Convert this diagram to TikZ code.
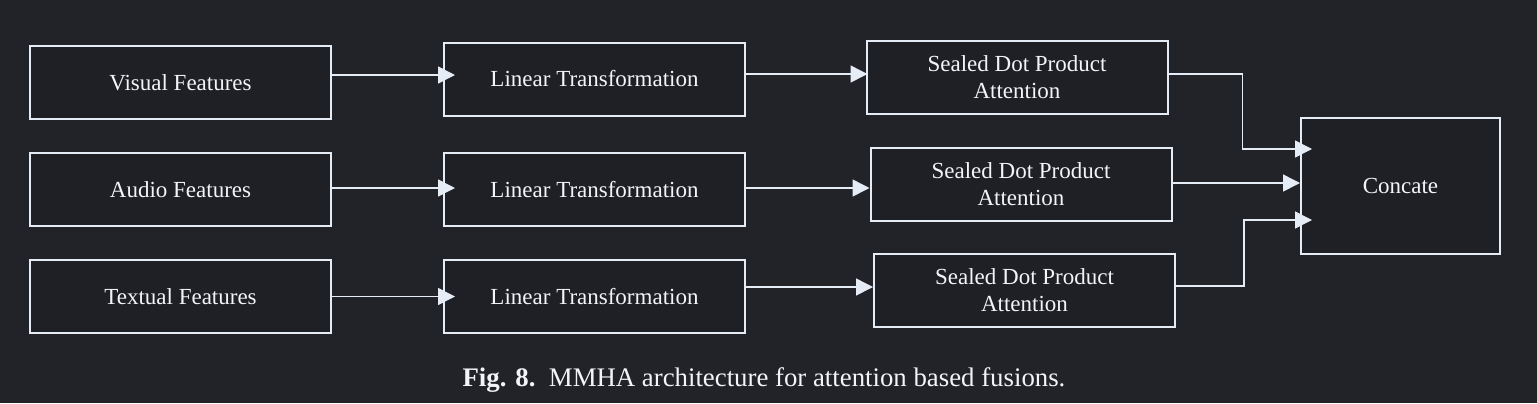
\documentclass[tikz,border=0pt]{standalone}
\usepackage{fontspec}
\setmainfont{Liberation Serif}
\usetikzlibrary{arrows.meta}
\definecolor{bgcol}{HTML}{212328}
\definecolor{boxcol}{HTML}{1E2025}
\definecolor{linecol}{HTML}{E6ECF6}
\definecolor{txtcol}{HTML}{F2F4F8}
\tikzset{
  blk/.style={draw=linecol, line width=1pt, fill=boxcol, text=txtcol,
    minimum width=150.5pt, minimum height=36.5pt, align=center,
    font=\fontsize{11.5}{13.5}\selectfont, inner sep=0pt},
  arr/.style={draw=linecol, line width=0.75pt, -{Triangle[length=8.5pt,width=8.5pt]}}
}
\begin{document}
\begin{tikzpicture}[x=0.5pt,y=-0.5pt]

\fill [bgcol] (0,0) rectangle (1537,403) ;
\useasboundingbox (0,0) rectangle (1537,403) ;

%input features
\node [blk] (vis) at (180.5,82.5) {Visual Features} ;
\node [blk] (aud) at (180.5,189.5) {Audio Features} ;
\node [blk] (txt) at (180.5,296.5) {Textual Features} ;

%linear transformations
\node [blk] (lin1) at (594.5,79) {Linear Transformation} ;
\node [blk] (lin2) at (594.5,189.5) {Linear Transformation} ;
\node [blk] (lin3) at (594.5,296.5) {Linear Transformation} ;

%attention heads
\node [blk] (sdpa1) at (1017,77.5) {Sealed Dot Product\\Attention} ;
\node [blk] (sdpa2) at (1021,184.5) {Sealed Dot Product\\Attention} ;
\node [blk] (sdpa3) at (1024.5,290) {Sealed Dot Product\\Attention} ;

%output
\node [blk,minimum width=99.5pt,minimum height=68pt] (concat) at (1400.5,186) {Concate} ;

%features to linear
\draw [arr,shorten >=-6pt] ([yshift=3.75pt]vis.east) -- ([yshift=2pt]lin1.west) ;
\draw [arr,shorten >=-6pt] ([yshift=0.75pt]aud.east) -- ([yshift=0.75pt]lin2.west) ;
\draw [arr,shorten >=-6pt] (txt.east) -- (lin3.west) ;

%linear to attention
\draw [arr,shorten >=-1pt] ([yshift=2.5pt]lin1.east) -- ([yshift=1.75pt]sdpa1.west) ;
\draw [arr] ([yshift=0.75pt]lin2.east) -- ([yshift=-1.75pt]sdpa2.west) ;
\draw [arr] ([yshift=4.75pt]lin3.east) -- ([yshift=1.5pt]sdpa3.west) ;

%attention to concate
\draw [arr,shorten >=-6pt] ([yshift=1.75pt]sdpa1.east) -- ++(74,0) |- ([yshift=18.5pt]concat.west) ;
\draw [arr] ([yshift=0.75pt]sdpa2.east) -- ([yshift=1.5pt]concat.west) ;
\draw [arr,shorten >=-6pt] ([yshift=2pt]sdpa3.east) -- ++(68,0) |- ([yshift=-17pt]concat.west) ;

%caption
\node [text=txtcol,font=\fontsize{13.4}{16}\selectfont] (cap) at (764,380)
  {\textbf{Fig. 8.}\enspace MMHA architecture for attention based fusions.} ;

\end{tikzpicture}
\end{document}
